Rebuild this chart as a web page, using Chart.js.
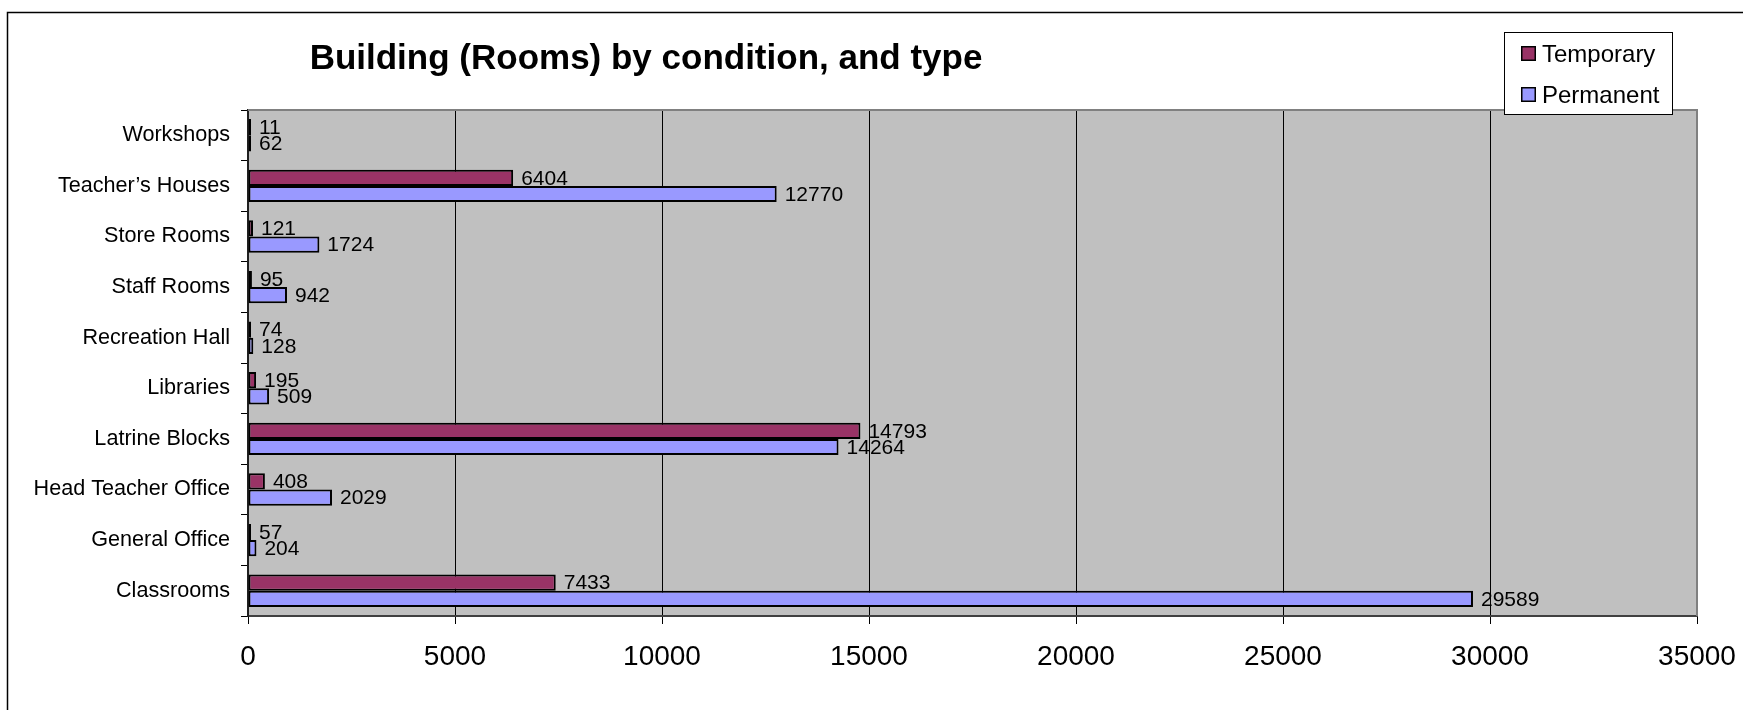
<!DOCTYPE html>
<html><head><meta charset="utf-8">
<script src="https://cdn.jsdelivr.net/npm/chart.js@4.4.1/dist/chart.umd.min.js"></script>
<style>html,body{margin:0;padding:0;background:#fff;overflow:hidden}#wrap{width:1743px;height:710px;position:relative}canvas{display:block}</style>
</head><body><div id="wrap"><canvas id="c" width="1743" height="710"></canvas></div>
<script>
const categories = ["Classrooms","General Office","Head Teacher Office","Latrine Blocks","Libraries","Recreation Hall","Staff Rooms","Store Rooms","Teacher’s Houses","Workshops"];
const temporary = [7433,57,408,14793,195,74,95,121,6404,11];
const permanent = [29589,204,2029,14264,509,128,942,1724,12770,62];
const seriesNames = ["Temporary","Permanent"];
const seriesColors = ["#993366","#9999FF"];
const xTicks = [0,5000,10000,15000,20000,25000,30000,35000];
const titleText = "Building (Rooms) by condition, and type";

const FONT = "'Liberation Sans', Arial, sans-serif";

const decor = {
  id: 'decor',
  beforeDraw(chart) {
    const ctx = chart.ctx, a = chart.chartArea;
    ctx.save();
    ctx.fillStyle = '#fff';
    ctx.fillRect(0, 0, chart.width, chart.height);
    ctx.strokeStyle = '#000';
    ctx.lineWidth = 1.5;
    ctx.beginPath();
    ctx.moveTo(7.5, chart.height + 5);
    ctx.lineTo(7.5, 12.5);
    ctx.lineTo(chart.width + 5, 12.5);
    ctx.stroke();
    ctx.fillStyle = '#C0C0C0';
    ctx.fillRect(a.left, a.top, a.right - a.left, a.bottom - a.top);
    ctx.restore();
  },
  beforeDatasetsDraw(chart) {
    const ctx = chart.ctx, a = chart.chartArea;
    ctx.save();
    ctx.strokeStyle = '#808080';
    ctx.lineWidth = 2;
    ctx.beginPath();
    ctx.moveTo(a.left, a.top);
    ctx.lineTo(a.right, a.top);
    ctx.lineTo(a.right, a.bottom);
    ctx.stroke();
    ctx.restore();
  },
  afterDraw(chart) {
    const ctx = chart.ctx;
    ctx.save();
    // data labels
    ctx.fillStyle = '#000';
    ctx.font = '21px ' + FONT;
    ctx.textAlign = 'left';
    ctx.textBaseline = 'middle';
    chart.data.datasets.forEach((ds, di) => {
      const meta = chart.getDatasetMeta(di);
      meta.data.forEach((el, i) => {
        ctx.fillText(String(ds.data[i]), el.x + 8, el.y + 1);
      });
    });
    // title
    ctx.font = 'bold 35px ' + FONT;
    ctx.textAlign = 'center';
    ctx.textBaseline = 'alphabetic';
    ctx.fillText(titleText, 646, 69);
    // legend
    ctx.fillStyle = '#fff';
    ctx.fillRect(1504, 32, 169, 83);
    ctx.strokeStyle = '#000';
    ctx.lineWidth = 1;
    ctx.strokeRect(1504.5, 32.5, 168, 82);
    chart.data.datasets.forEach((ds, di) => {
      const y = 46 + di * 41;
      ctx.fillStyle = ds.backgroundColor;
      ctx.fillRect(1521, y, 15, 15);
      ctx.lineWidth = 1.5;
      ctx.strokeStyle = '#000';
      ctx.strokeRect(1521.75, y + 0.75, 13.5, 13.5);
      ctx.fillStyle = '#000';
      ctx.font = '24px ' + FONT;
      ctx.textAlign = 'left';
      ctx.textBaseline = 'alphabetic';
      ctx.fillText(ds.label, 1542, y + 16);
    });
    ctx.restore();
  }
};

new Chart(document.getElementById('c'), {
  type: 'bar',
  data: {
    labels: categories,
    datasets: [
      { label: seriesNames[0], data: temporary, backgroundColor: seriesColors[0] },
      { label: seriesNames[1], data: permanent, backgroundColor: seriesColors[1] }
    ]
  },
  options: {
    indexAxis: 'y',
    responsive: false,
    animation: false,
    devicePixelRatio: 1,
    layout: { padding: { top: 110, right: 46, bottom: 0, left: 0 } },
    datasets: {
      bar: {
        borderColor: '#000',
        borderWidth: 2,
        borderSkipped: false,
        barPercentage: 1,
        categoryPercentage: 0.64,
        minBarLength: 3
      }
    },
    plugins: {
      legend: { display: false },
      title: { display: false },
      tooltip: { enabled: false }
    },
    scales: {
      x: {
        type: 'linear',
        min: 0,
        max: 35000,
        afterBuildTicks(s) { s.ticks = xTicks.map(v => ({ value: v })); },
        afterFit(s) { s.height = 94; s.paddingLeft = 0; s.paddingRight = 0; },
        grid: {
          color: (c) => (c.tick && c.tick.value === 35000) ? '#808080' : '#000',
          lineWidth: 1,
          drawTicks: true,
          tickLength: 8,
          tickColor: '#000'
        },
        border: { display: true, color: '#404040', width: 2 },
        ticks: {
          color: '#000',
          font: { family: FONT, size: 28 },
          padding: 16,
          maxRotation: 0,
          autoSkip: false,
          callback: (v) => String(v)
        }
      },
      y: {
        reverse: true,
        afterFit(s) { s.width = 248; s.paddingTop = 0; s.paddingBottom = 0; },
        grid: {
          drawOnChartArea: false,
          drawTicks: true,
          tickLength: 7,
          tickColor: '#000',
          offset: true
        },
        border: { display: true, color: '#202020', width: 2 },
        ticks: {
          color: '#000',
          font: { family: FONT, size: 21.6 },
          padding: 11,
          autoSkip: false
        }
      }
    }
  },
  plugins: [decor]
});
</script>
</body></html>
